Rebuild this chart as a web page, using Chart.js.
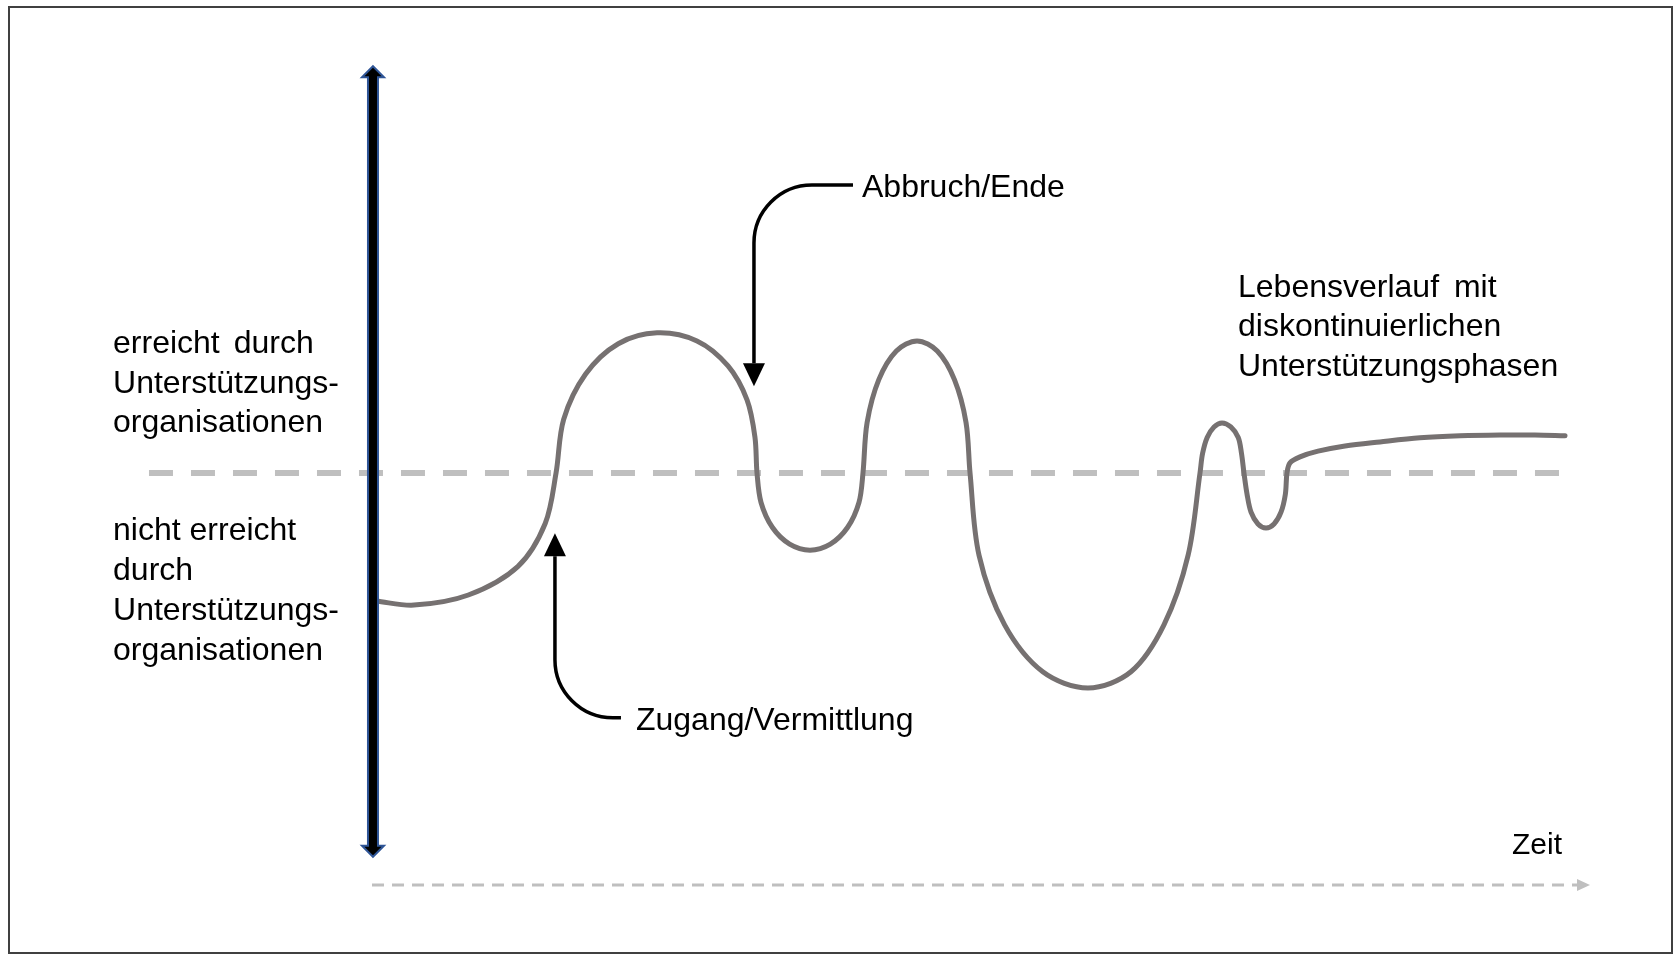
<!DOCTYPE html>
<html><head><meta charset="utf-8">
<script src="https://cdn.jsdelivr.net/npm/chart.js@4/dist/chart.umd.min.js"></script>
<style>html,body{margin:0;padding:0;background:#fff;overflow:hidden}#wrap{width:1673px;height:955px;position:relative}</style>
</head><body><div id="wrap"><canvas id="c"></canvas></div>
<script>
// Life course curve (x = time, y = level; 0 = threshold "reached by support organisations")
const curveX = [0.33,3.45,7.91,11.99,14.22,15.11,
  15.74,17.54,20.22,23.40,26.68,29.23,30.79,31.44,31.61,
  31.94,32.88,34.29,35.96,37.63,39.04,39.98,40.31,
  40.65,41.61,43.05,44.75,46.41,47.82,48.77,49.10,
  49.84,51.94,55.07,58.78,62.31,65.02,67.00,67.98,
  68.19,68.57,69.13,69.79,70.51,71.12,71.39,71.59,
  71.84,72.17,72.74,73.40,74.06,74.63,74.99,75.12,
  75.37,76.19,77.67,79.89,82.76,86.04,89.33,92.61,95.48,97.95];
const curveY = [-3.17,-3.27,-3.02,-2.31,-1.25,0,
  1.33,2.45,3.20,3.47,3.27,2.65,1.81,0.89,0,
  -0.73,-1.35,-1.76,-1.91,-1.76,-1.35,-0.73,0,
  1.25,2.31,3.02,3.27,3.02,2.31,1.25,0,
  -2.04,-3.76,-4.92,-5.32,-4.92,-3.76,-2.04,0,
  0.48,0.88,1.14,1.24,1.14,0.88,0.48,0,
  -0.52,-0.97,-1.26,-1.36,-1.26,-0.97,-0.52,0,
  0.25,0.40,0.54,0.67,0.77,0.87,0.92,0.94,0.94,0.92];
const thresholdX = [-18.31, 97.95];
const thresholdY = [0, 0];
const timeAxisX = [0, 100];
const timeAxisY = [-10.2, -10.2];
const valueAxisX = 0.08;
const valueAxisY = [10.07, -9.5];
const leftLabels = ["erreicht durch","Unterstützungs-","organisationen","nicht erreicht","durch","Unterstützungs-","organisationen"];
const leftLabelX = -21.26;
const leftLabelY = [3.27,2.28,1.31,-1.36,-2.35,-3.34,-4.33];
const rightLabels = ["Lebensverlauf mit","diskontinuierlichen","Unterstützungsphasen"];
const rightLabelX = 71.10;
const rightLabelY = [4.65,3.69,2.70];
const annotations = [
  {text:"Abbruch/Ende", textX:40.23, textY:7.13, startX:39.49, bendX:31.36, tipY:2.15},
  {text:"Zugang/Vermittlung", textX:21.67, textY:-6.06, startX:20.44, bendX:15.02, tipY:-1.49}
];
const timeLabel = {text:"Zeit", x:93.6, y:-9.16};

const curveData = curveX.map((x,i)=>({x, y:curveY[i]}));
const thresholdData = thresholdX.map((x,i)=>({x, y:thresholdY[i]}));
const timeData = timeAxisX.map((x,i)=>({x, y:timeAxisY[i]}));

const FONT = '"Liberation Sans", Arial, sans-serif';
const TEXT_NUDGE = 3;

const deco = {
  id:'deco',
  afterDatasetsDraw(chart){
    const ctx = chart.ctx, xs = chart.scales.x, ys = chart.scales.y;
    const px = v=>xs.getPixelForValue(v), py = v=>ys.getPixelForValue(v);
    ctx.save();
    // time arrow head
    const tx = px(timeAxisX[1]), tyy = py(timeAxisY[1]);
    ctx.fillStyle = '#BFBFBF';
    ctx.beginPath(); ctx.moveTo(tx, tyy); ctx.lineTo(tx-13, tyy-6); ctx.lineTo(tx-13, tyy+6); ctx.closePath(); ctx.fill();
    // vertical double arrow
    const cx = px(valueAxisX), t = py(valueAxisY[0]), b = py(valueAxisY[1]);
    const hw = 11, sw = 5, hl = 11;
    ctx.beginPath();
    ctx.moveTo(cx, t); ctx.lineTo(cx+hw, t+hl); ctx.lineTo(cx+sw, t+hl); ctx.lineTo(cx+sw, b-hl);
    ctx.lineTo(cx+hw, b-hl); ctx.lineTo(cx, b); ctx.lineTo(cx-hw, b-hl); ctx.lineTo(cx-sw, b-hl);
    ctx.lineTo(cx-sw, t+hl); ctx.lineTo(cx-hw, t+hl); ctx.closePath();
    ctx.fillStyle = '#000'; ctx.fill();
    ctx.strokeStyle = '#2F5597'; ctx.lineWidth = 2; ctx.lineJoin = 'miter'; ctx.stroke();
    // annotation arrows
    ctx.strokeStyle = '#000'; ctx.fillStyle = '#000'; ctx.lineWidth = 3.5;
    annotations.forEach(a=>{
      const sx = px(a.startX), sy = py(a.textY), vx = px(a.bendX), tp = py(a.tipY);
      const dir = tp > sy ? 1 : -1;
      const headL = 23, headW = 11;
      ctx.beginPath();
      ctx.moveTo(sx, sy);
      ctx.arcTo(vx, sy, vx, tp, 58);
      ctx.lineTo(vx, tp - dir*headL);
      ctx.stroke();
      ctx.beginPath();
      ctx.moveTo(vx, tp); ctx.lineTo(vx-headW, tp-dir*headL); ctx.lineTo(vx+headW, tp-dir*headL); ctx.closePath(); ctx.fill();
    });
    // texts
    ctx.fillStyle = '#000'; ctx.textAlign = 'left'; ctx.textBaseline = 'middle';
    ctx.font = '32px ' + FONT;
    const put = (s, x, y, ws)=>{ ctx.wordSpacing = ws || '0px'; ctx.fillText(s, x, y + TEXT_NUDGE); };
    leftLabels.forEach((s,i)=>put(s, px(leftLabelX), py(leftLabelY[i]), i===0 ? '5px' : '0px'));
    rightLabels.forEach((s,i)=>put(s, px(rightLabelX), py(rightLabelY[i]), i===0 ? '6px' : '0px'));
    annotations.forEach(a=>put(a.text, px(a.textX), py(a.textY)));
    ctx.font = '30px ' + FONT;
    put(timeLabel.text, px(timeLabel.x), py(timeLabel.y));
    ctx.wordSpacing = '0px';
    // frame
    ctx.strokeStyle = '#404040'; ctx.lineWidth = 2;
    ctx.strokeRect(9, 7, 1663, 946);
    ctx.restore();
  }
};

new Chart(document.getElementById('c'), {
  type:'line',
  data:{datasets:[
    {data:curveData, borderColor:'#767171', borderWidth:5, tension:0.33, cubicInterpolationMode:'default', pointRadius:0, clip:false, fill:false, borderCapStyle:'round', borderJoinStyle:'round'},
    {data:thresholdData, borderColor:'#BFBFBF', borderWidth:6, borderDash:[24,18], tension:0, pointRadius:0, clip:false, fill:false},
    {data:timeData, borderColor:'#BFBFBF', borderWidth:3, borderDash:[12,8], tension:0, pointRadius:0, clip:false, fill:false}
  ]},
  options:{
    responsive:true, maintainAspectRatio:false, animation:false,
    layout:{padding:{left:372, right:83, top:69, bottom:78}},
    elements:{line:{capBezierPoints:false}},
    scales:{
      x:{type:'linear', min:0, max:100, display:false},
      y:{type:'linear', min:-10, max:10, display:false}
    },
    plugins:{legend:{display:false}, tooltip:{enabled:false}, title:{display:false}},
    events:[]
  },
  plugins:[deco]
});
</script>
</body></html>
